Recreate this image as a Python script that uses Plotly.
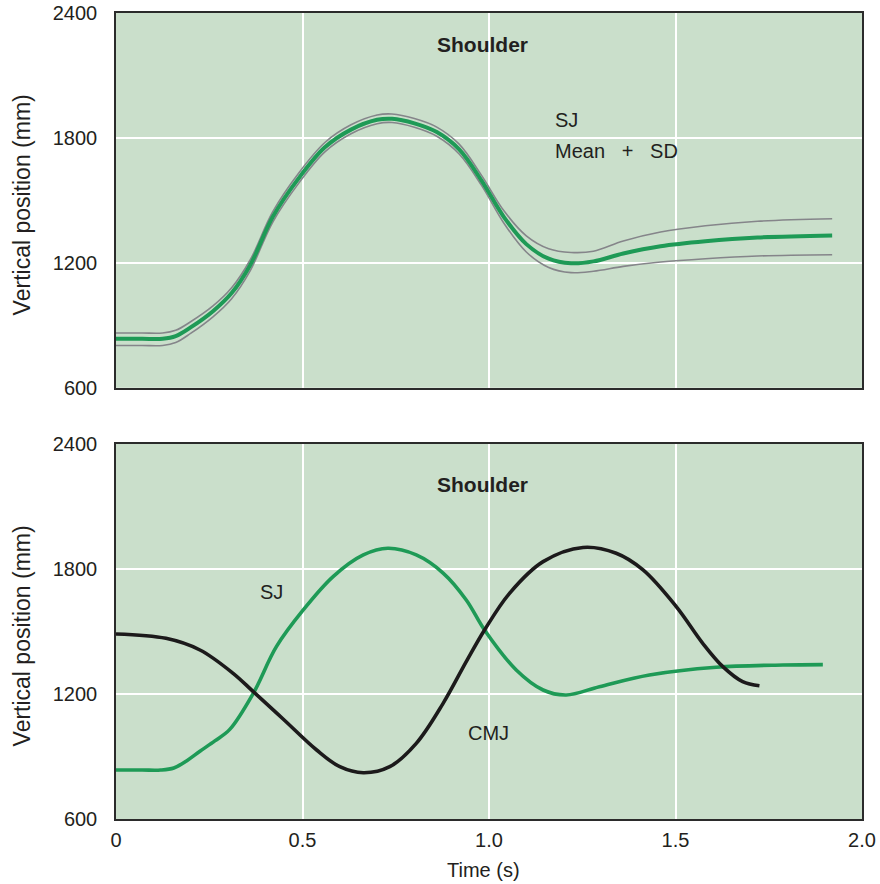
import plotly.graph_objects as go

# ---------------- data ----------------
# Top panel: SJ shoulder vertical position, mean and +/- SD band
t_top = [0, 0.07, 0.125, 0.16, 0.2, 0.26, 0.31, 0.36, 0.42, 0.49, 0.56, 0.63, 0.70, 0.74, 0.80,
         0.86, 0.92, 0.98, 1.04, 1.10, 1.16, 1.22, 1.28, 1.36, 1.46, 1.58, 1.72, 1.92]
sj_mean = [835, 835, 835, 848, 890, 968, 1055, 1190, 1420, 1607, 1755, 1840, 1887, 1892, 1870,
           1828, 1745, 1595, 1420, 1290, 1220, 1198, 1207, 1245, 1280, 1304, 1322, 1332]
sj_upper = [863, 863, 863, 876, 917, 993, 1080, 1215, 1445, 1632, 1778, 1863, 1910, 1915, 1893,
            1852, 1770, 1620, 1450, 1330, 1268, 1250, 1256, 1305, 1348, 1378, 1400, 1412]
sj_lower = [803, 803, 803, 817, 861, 941, 1028, 1163, 1395, 1583, 1733, 1820, 1868, 1874, 1851,
            1808, 1723, 1572, 1390, 1252, 1178, 1153, 1160, 1183, 1204, 1220, 1233, 1239]

# Bottom panel: SJ vs CMJ shoulder vertical position
t_sj = [0, 0.07, 0.12, 0.155, 0.19, 0.225, 0.265, 0.305, 0.368, 0.43, 0.502, 0.582, 0.663, 0.729,
        0.805, 0.877, 0.939, 0.988, 1.073, 1.145, 1.207, 1.296, 1.43, 1.609, 1.788, 1.895]
sj_pos = [835, 835, 835, 845, 880, 925, 975, 1030, 1203, 1427, 1603, 1763, 1867, 1899,
          1867, 1780, 1651, 1507, 1315, 1219, 1195, 1235, 1291, 1328, 1339, 1341]
t_cmj = [0, 0.134, 0.225, 0.314, 0.368, 0.448, 0.538, 0.6, 0.663, 0.734, 0.805, 0.877,
         0.939, 0.988, 1.055, 1.145, 1.252, 1.341, 1.413, 1.502, 1.573, 1.627, 1.68, 1.725]
cmj_pos = [1488, 1467, 1411, 1299, 1211, 1080, 931, 851, 822, 851, 963, 1155,
           1355, 1507, 1683, 1835, 1903, 1875, 1795, 1619, 1443, 1331, 1259, 1239]

x_ticks = [0, 0.5, 1.0, 1.5, 2.0]
x_ticktext = ["0", "0.5", "1.0", "1.5", "2.0"]
y_ticks = [600, 1200, 1800, 2400]
y_ticktext = ["600", "1200", "1800", "2400"]

GREEN = "#1e9a56"
GREY = "#85858a"
BLACK = "#1c1a1b"
BG = "#cadfcb"
FONT = "Liberation Sans, Arial, Helvetica, sans-serif"
TXT = "#231f20"

fig = go.Figure()

spl = dict(shape="spline", smoothing=1.0)
# top panel
fig.add_trace(go.Scatter(x=t_top, y=sj_upper, mode="lines", line=dict(color=GREY, width=1.6, **spl),
                         xaxis="x", yaxis="y", showlegend=False))
fig.add_trace(go.Scatter(x=t_top, y=sj_lower, mode="lines", line=dict(color=GREY, width=1.6, **spl),
                         xaxis="x", yaxis="y", showlegend=False))
fig.add_trace(go.Scatter(x=t_top, y=sj_mean, mode="lines", line=dict(color=GREEN, width=4, **spl),
                         xaxis="x", yaxis="y", showlegend=False))

# bottom panel
fig.add_trace(go.Scatter(x=t_sj, y=sj_pos, mode="lines", line=dict(color=GREEN, width=3.6, **spl),
                         xaxis="x2", yaxis="y2", showlegend=False))
fig.add_trace(go.Scatter(x=t_cmj, y=cmj_pos, mode="lines", line=dict(color=BLACK, width=3.6, **spl),
                         xaxis="x2", yaxis="y2", showlegend=False))

axis_common = dict(showline=True, mirror=True, linecolor="#2b2b2b", linewidth=1.5,
                   showgrid=True, gridcolor="white", gridwidth=1.6, zeroline=False,
                   automargin=False,
                   tickfont=dict(family=FONT, size=20, color=TXT))

top_dom = [0.535, 1.0]
bot_dom = [0.0, 0.4654]

fig.update_layout(
    width=880, height=884,
    margin=dict(l=116, r=18, t=13, b=65, autoexpand=False),
    paper_bgcolor="white", plot_bgcolor=BG,
    font=dict(family=FONT, color=TXT),
    hovermode=False,
    xaxis=dict(domain=[0, 1], range=[0, 2], tickvals=x_ticks, ticktext=x_ticktext,
               showticklabels=False, anchor="y", ticks="", **axis_common),
    yaxis=dict(domain=top_dom, range=[600, 2400], tickvals=y_ticks, ticktext=y_ticktext,
               anchor="x", ticks="outside", ticklen=13, tickcolor="rgba(0,0,0,0)", **axis_common),
    xaxis2=dict(domain=[0, 1], range=[0, 2], tickvals=x_ticks, ticktext=x_ticktext,
                anchor="y2", ticks="outside", ticklen=2, tickcolor="rgba(0,0,0,0)", **axis_common),
    yaxis2=dict(domain=bot_dom, range=[600, 2400], tickvals=y_ticks, ticktext=y_ticktext,
                anchor="x2", ticks="outside", ticklen=13, tickcolor="rgba(0,0,0,0)", **axis_common),
)

ann = []
# panel titles
ann.append(dict(x=0.983, y=2249, xref="x", yref="y", text="<b>Shoulder</b>", showarrow=False,
                font=dict(family=FONT, size=21, color=TXT), xanchor="center", yanchor="middle"))
ann.append(dict(x=0.983, y=2203, xref="x2", yref="y2", text="<b>Shoulder</b>", showarrow=False,
                font=dict(family=FONT, size=21, color=TXT), xanchor="center", yanchor="middle"))
# labels top
ann.append(dict(x=1.171, y=1884, xref="x", yref="y", text="SJ", showarrow=False,
                font=dict(family=FONT, size=20, color=TXT), xanchor="left", yanchor="middle"))
ann.append(dict(x=1.171, y=1735, xref="x", yref="y", text="Mean\u00a0\u00a0\u00a0+\u00a0\u00a0\u00a0SD",
                showarrow=False, font=dict(family=FONT, size=20, color=TXT), xanchor="left", yanchor="middle"))
# labels bottom
ann.append(dict(x=0.381, y=1688, xref="x2", yref="y2", text="SJ", showarrow=False,
                font=dict(family=FONT, size=20, color=TXT), xanchor="left", yanchor="middle"))
ann.append(dict(x=0.937, y=1014, xref="x2", yref="y2", text="CMJ", showarrow=False,
                font=dict(family=FONT, size=20, color=TXT), xanchor="left", yanchor="middle"))
# axis titles
for yc in [(top_dom[0] + top_dom[1]) / 2, (bot_dom[0] + bot_dom[1]) / 2]:
    ann.append(dict(x=0, y=yc, xref="paper", yref="paper", text="Vertical position (mm)", textangle=-90,
                    showarrow=False, xshift=-94, yshift=-5, xanchor="center", yanchor="middle",
                    font=dict(family=FONT, size=23, color=TXT)))
ann.append(dict(x=0.986, y=0, xref="x2", yref="paper", text="Time (s)", showarrow=False,
                yshift=-51, xanchor="center", yanchor="middle", font=dict(family=FONT, size=20, color=TXT)))

fig.update_layout(annotations=ann)

fig.write_html("out.html", config={"displayModeBar": False},
               post_script="document.body.style.margin='0';document.body.style.overflow='hidden';")
